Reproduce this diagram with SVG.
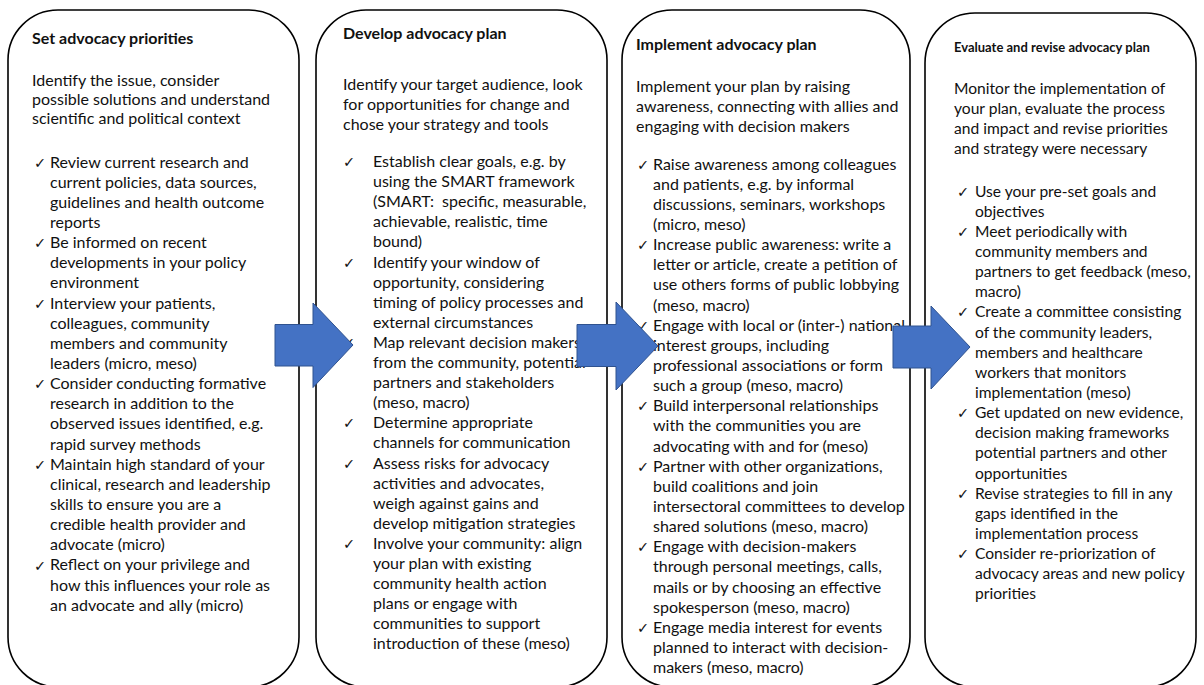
<svg xmlns="http://www.w3.org/2000/svg" width="1204" height="685" viewBox="0 0 1204 685">
<style>
.box{fill:#fff;stroke:#000;stroke-width:1.6}
.t{font-family:Lato,"Liberation Sans",sans-serif;font-weight:bold;font-size:16px;fill:#111}
.t4{font-family:Lato,"Liberation Sans",sans-serif;font-weight:bold;font-size:13px;fill:#111}
.d{font-family:Lato,"Liberation Sans",sans-serif;font-size:16px;fill:#111}
.d4{font-family:Lato,"Liberation Sans",sans-serif;font-size:15.6px;fill:#111}
.ck{font-family:"DejaVu Sans",sans-serif;font-size:14.5px;fill:#111}
.arr{fill:#4472C4;stroke:#2F528F;stroke-width:1}
</style>
<rect width="1204" height="685" fill="#fff"/>
<g id="node-1">
<rect class="box" x="8" y="10" width="291" height="677" rx="50" ry="50"/>
<text class="t" x="32" y="43.5">Set advocacy priorities</text>
<text class="d"><tspan x="32" y="86">Identify the issue, consider</tspan><tspan x="32" y="104.5">possible solutions and understand</tspan><tspan x="32" y="123.5">scientific and political context</tspan></text>
<text class="ck"><tspan x="34" y="167.5">✓</tspan><tspan x="34" y="248.1">✓</tspan><tspan x="34" y="308.6">✓</tspan><tspan x="34" y="389.2">✓</tspan><tspan x="34" y="469.8">✓</tspan><tspan x="34" y="570.5">✓</tspan></text>
<text class="d" y="167.5"><tspan x="50" dy="0">Review current research and</tspan><tspan x="50" dy="20.15">current policies, data sources,</tspan><tspan x="50" dy="20.15">guidelines and health outcome</tspan><tspan x="50" dy="20.15">reports</tspan><tspan x="50" dy="20.15">Be informed on recent</tspan><tspan x="50" dy="20.15">developments in your policy</tspan><tspan x="50" dy="20.15">environment</tspan><tspan x="50" dy="20.15">Interview your patients,</tspan><tspan x="50" dy="20.15">colleagues, community</tspan><tspan x="50" dy="20.15">members and community</tspan><tspan x="50" dy="20.15">leaders (micro, meso)</tspan><tspan x="50" dy="20.15">Consider conducting formative</tspan><tspan x="50" dy="20.15">research in addition to the</tspan><tspan x="50" dy="20.15">observed issues identified, e.g.</tspan><tspan x="50" dy="20.15">rapid survey methods</tspan><tspan x="50" dy="20.15">Maintain high standard of your</tspan><tspan x="50" dy="20.15">clinical, research and leadership</tspan><tspan x="50" dy="20.15">skills to ensure you are a</tspan><tspan x="50" dy="20.15">credible health provider and</tspan><tspan x="50" dy="20.15">advocate (micro)</tspan><tspan x="50" dy="20.15">Reflect on your privilege and</tspan><tspan x="50" dy="20.15">how this influences your role as</tspan><tspan x="50" dy="20.15">an advocate and ally (micro)</tspan></text>
</g>
<g id="node-2">
<rect class="box" x="316" y="10" width="291" height="677" rx="50" ry="50"/>
<text class="t" x="343" y="38.5">Develop advocacy plan</text>
<text class="d"><tspan x="343" y="90">Identify your target audience, look</tspan><tspan x="343" y="110">for opportunities for change and</tspan><tspan x="343" y="130">chose your strategy and tools</tspan></text>
<text class="ck"><tspan x="343" y="167">✓</tspan><tspan x="343" y="267.5">✓</tspan><tspan x="343" y="347.9">✓</tspan><tspan x="343" y="428.3">✓</tspan><tspan x="343" y="468.5">✓</tspan><tspan x="343" y="548.9">✓</tspan></text>
<text class="d" y="167"><tspan x="373" dy="0">Establish clear goals, e.g. by</tspan><tspan x="373" dy="20.1">using the SMART framework</tspan><tspan x="373" dy="20.1">(SMART:&#160; specific, measurable,</tspan><tspan x="373" dy="20.1">achievable, realistic, time</tspan><tspan x="373" dy="20.1">bound)</tspan><tspan x="373" dy="20.1">Identify your window of</tspan><tspan x="373" dy="20.1">opportunity, considering</tspan><tspan x="373" dy="20.1">timing of policy processes and</tspan><tspan x="373" dy="20.1">external circumstances</tspan><tspan x="373" dy="20.1">Map relevant decision makers</tspan><tspan x="373" dy="20.1">from the community, potential</tspan><tspan x="373" dy="20.1">partners and stakeholders</tspan><tspan x="373" dy="20.1">(meso, macro)</tspan><tspan x="373" dy="20.1">Determine appropriate</tspan><tspan x="373" dy="20.1">channels for communication</tspan><tspan x="373" dy="20.1">Assess risks for advocacy</tspan><tspan x="373" dy="20.1">activities and advocates,</tspan><tspan x="373" dy="20.1">weigh against gains and</tspan><tspan x="373" dy="20.1">develop mitigation strategies</tspan><tspan x="373" dy="20.1">Involve your community: align</tspan><tspan x="373" dy="20.1">your plan with existing</tspan><tspan x="373" dy="20.1">community health action</tspan><tspan x="373" dy="20.1">plans or engage with</tspan><tspan x="373" dy="20.1">communities to support</tspan><tspan x="373" dy="20.1">introduction of these (meso)</tspan></text>
</g>
<g id="node-3">
<rect class="box" x="622" y="10" width="288" height="677" rx="50" ry="50"/>
<text class="t" x="636" y="50">Implement advocacy plan</text>
<text class="d"><tspan x="636" y="92">Implement your plan by raising</tspan><tspan x="636" y="112">awareness, connecting with allies and</tspan><tspan x="636" y="131.5">engaging with decision makers</tspan></text>
<text class="ck"><tspan x="637" y="169.5">✓</tspan><tspan x="637" y="250.1">✓</tspan><tspan x="637" y="330.7">✓</tspan><tspan x="637" y="411.3">✓</tspan><tspan x="637" y="471.8">✓</tspan><tspan x="637" y="552.4">✓</tspan><tspan x="637" y="633">✓</tspan></text>
<text class="d" y="169.5"><tspan x="653" dy="0">Raise awareness among colleagues</tspan><tspan x="653" dy="20.15">and patients, e.g. by informal</tspan><tspan x="653" dy="20.15">discussions, seminars, workshops</tspan><tspan x="653" dy="20.15">(micro, meso)</tspan><tspan x="653" dy="20.15">Increase public awareness: write a</tspan><tspan x="653" dy="20.15">letter or article, create a petition of</tspan><tspan x="653" dy="20.15">use others forms of public lobbying</tspan><tspan x="653" dy="20.15">(meso, macro)</tspan><tspan x="653" dy="20.15">Engage with local or (inter-) national</tspan><tspan x="653" dy="20.15">interest groups, including</tspan><tspan x="653" dy="20.15">professional associations or form</tspan><tspan x="653" dy="20.15">such a group (meso, macro)</tspan><tspan x="653" dy="20.15">Build interpersonal relationships</tspan><tspan x="653" dy="20.15">with the communities you are</tspan><tspan x="653" dy="20.15">advocating with and for (meso)</tspan><tspan x="653" dy="20.15">Partner with other organizations,</tspan><tspan x="653" dy="20.15">build coalitions and join</tspan><tspan x="653" dy="20.15">intersectoral committees to develop</tspan><tspan x="653" dy="20.15">shared solutions (meso, macro)</tspan><tspan x="653" dy="20.15">Engage with decision-makers</tspan><tspan x="653" dy="20.15">through personal meetings, calls,</tspan><tspan x="653" dy="20.15">mails or by choosing an effective</tspan><tspan x="653" dy="20.15">spokesperson (meso, macro)</tspan><tspan x="653" dy="20.15">Engage media interest for events</tspan><tspan x="653" dy="20.15">planned to interact with decision-</tspan><tspan x="653" dy="20.15">makers (meso, macro)</tspan></text>
</g>
<g id="node-4">
<rect class="box" x="925" y="13" width="271" height="674" rx="50" ry="50"/>
<text class="t4" x="954" y="52">Evaluate and revise advocacy plan</text>
<text class="d4"><tspan x="954" y="94">Monitor the implementation of</tspan><tspan x="954" y="114">your plan, evaluate the process</tspan><tspan x="954" y="134">and impact and revise priorities</tspan><tspan x="954" y="154">and strategy were necessary</tspan></text>
<text class="ck"><tspan x="957" y="196.5">✓</tspan><tspan x="957" y="236.8">✓</tspan><tspan x="957" y="317.4">✓</tspan><tspan x="957" y="418.2">✓</tspan><tspan x="957" y="498.8">✓</tspan><tspan x="957" y="559.2">✓</tspan></text>
<text class="d4" y="196.5"><tspan x="975" dy="0">Use your pre-set goals and</tspan><tspan x="975" dy="20.15">objectives</tspan><tspan x="975" dy="20.15">Meet periodically with</tspan><tspan x="975" dy="20.15">community members and</tspan><tspan x="975" dy="20.15">partners to get feedback (meso,</tspan><tspan x="975" dy="20.15">macro)</tspan><tspan x="975" dy="20.15">Create a committee consisting</tspan><tspan x="975" dy="20.15">of the community leaders,</tspan><tspan x="975" dy="20.15">members and healthcare</tspan><tspan x="975" dy="20.15">workers that monitors</tspan><tspan x="975" dy="20.15">implementation (meso)</tspan><tspan x="975" dy="20.15">Get updated on new evidence,</tspan><tspan x="975" dy="20.15">decision making frameworks</tspan><tspan x="975" dy="20.15">potential partners and other</tspan><tspan x="975" dy="20.15">opportunities</tspan><tspan x="975" dy="20.15">Revise strategies to fill in any</tspan><tspan x="975" dy="20.15">gaps identified in the</tspan><tspan x="975" dy="20.15">implementation process</tspan><tspan x="975" dy="20.15">Consider re-priorization of</tspan><tspan x="975" dy="20.15">advocacy areas and new policy</tspan><tspan x="975" dy="20.15">priorities</tspan></text>
</g>
<g id="connectors">
<polygon class="arr" points="275,324.5 313,324.5 313,303 353,345 313,387.5 313,366 275,366"/>
<polygon class="arr" points="577,324.5 616,324.5 616,302 658,346 616,390 616,366.5 577,366.5"/>
<polygon class="arr" points="893,326 931,326 931,306 970,347 931,389 931,368 893,368"/>
</g>
</svg>
